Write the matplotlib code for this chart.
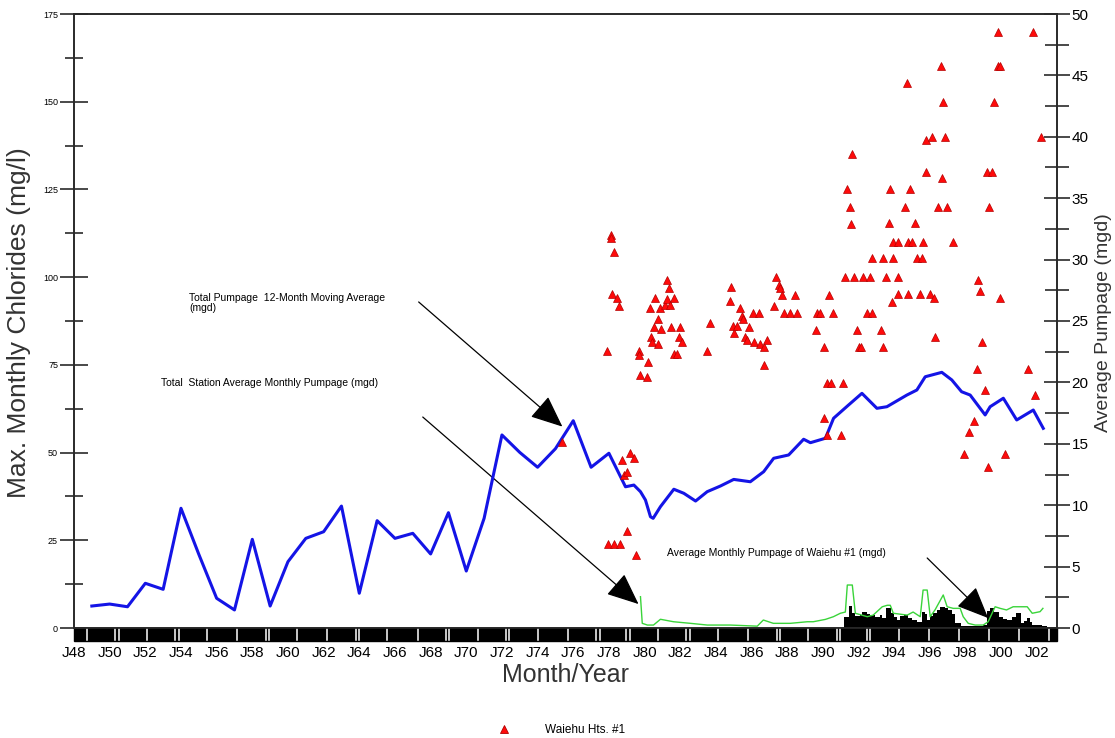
import matplotlib
matplotlib.use('Agg')
import matplotlib.pyplot as plt
import matplotlib.transforms as mtrans
from matplotlib.patches import Rectangle
from matplotlib.lines import Line2D
import numpy as np

plt.rcParams['font.family'] = ['Liberation Sans', 'DejaVu Sans']

# ---------------- data ----------------
# Total pumpage 12-month moving average (mgd, right axis)
avg_year = [1949, 1950, 1951, 1952, 1953, 1954, 1955, 1956, 1957, 1958, 1959, 1960,
            1961, 1962, 1963, 1964, 1965, 1966, 1967, 1968, 1969, 1970, 1971, 1972,
            1973, 1974, 1975, 1976, 1977, 1978,
            1978.93, 1979.40, 1979.77, 1980.05, 1980.33, 1980.48, 1980.89, 1981.64,
            1982.20, 1982.86, 1983.51, 1984.25, 1985.00, 1985.93, 1986.68, 1987.24,
            1988.08, 1988.92, 1989.30, 1990.14, 1990.60, 1991.44, 1992.19, 1993.03,
            1993.59, 1994.71, 1995.27, 1995.74, 1996.67, 1997.23, 1997.78, 1998.26,
            1999.10, 1999.38, 2000.12, 2000.87, 2001.80, 2002.36]
avg_mgd = [1.79, 1.95, 1.73, 3.64, 3.15, 9.75, 6.0, 2.42, 1.47, 7.22, 1.79, 5.4,
           7.3, 7.84, 9.93, 2.83, 8.74, 7.3, 7.71, 6.03, 9.39, 4.64, 8.93, 15.72,
           14.3, 13.09, 14.6, 16.88, 13.09, 14.23,
           11.5, 11.64, 11.1, 10.42, 9.06, 8.93, 9.88, 11.3,
           10.97, 10.34, 11.1, 11.56, 12.1, 11.91, 12.73, 13.82,
           14.09, 15.37, 15.09, 15.45, 17.08, 18.16, 19.11, 17.89,
           18.02, 18.97, 19.38, 20.46, 20.82, 20.2, 19.24, 18.97,
           17.35, 18.02, 18.71, 16.94, 17.75, 16.26]

# Total station average monthly pumpage (mgd, right axis)
stn_year = [1979.77, 1979.87, 1980.16, 1980.50, 1980.89, 1981.62, 1982.57, 1983.52,
            1984.81, 1986.32, 1986.66, 1987.22, 1988.17, 1989.13, 1989.46, 1990.14,
            1990.59, 1990.98, 1991.26, 1991.37, 1991.65, 1991.82, 1992.49, 1992.82,
            1993.33, 1993.61, 1993.78, 1993.95, 1994.73, 1995.06, 1995.46, 1995.62,
            1995.85, 1996.02, 1996.30, 1996.75, 1996.97, 1997.31, 1997.70, 1997.87,
            1998.15, 1998.54, 1998.99, 1999.27, 1999.66, 1999.94, 2000.30, 2000.67,
            2001.46, 2001.74, 2002.18, 2002.34]
stn_mgd = [2.55, 0.38, 0.24, 0.24, 0.71, 0.51, 0.38, 0.24,
           0.24, 0.15, 0.65, 0.38, 0.38, 0.51, 0.51, 0.70,
           0.92, 1.20, 1.30, 3.50, 3.50, 1.20, 0.92, 1.05,
           1.73, 1.85, 1.85, 1.20, 1.05, 1.30, 0.92, 3.09,
           3.09, 0.92, 1.50, 2.69, 1.73, 1.60, 1.60, 0.92,
           0.38, 0.24, 0.24, 0.51, 1.73, 1.60, 1.47, 1.73,
           1.73, 1.20, 1.33, 1.60]

# Average monthly pumpage of Waiehu #1 (mgd, right axis, monthly steps)
w1_year = [1991.20, 1991.44, 1991.63, 1991.80, 1992.09, 1992.19, 1992.45, 1992.66,
           1992.90, 1993.22, 1993.31, 1993.55, 1993.80, 1994.00, 1994.15, 1994.35,
           1994.55, 1994.80, 1995.00, 1995.30, 1995.55, 1995.70, 1995.85, 1996.00,
           1996.20, 1996.39, 1996.55, 1996.85, 1997.04, 1997.23, 1997.42, 1997.75,
           1999.00, 1999.20, 1999.35, 1999.60, 1999.90, 2000.10, 2000.35, 2000.60,
           2000.83, 2001.10, 2001.30, 2001.45, 2001.60, 2001.75, 2002.30, 2002.55]
w1_mgd = [0.90, 1.79, 1.19, 0.95, 1.06, 1.33, 1.15, 1.06,
          0.90, 1.06, 0.79, 1.60, 1.19, 0.90, 0.65, 0.95,
          1.06, 0.85, 0.65, 0.51, 1.33, 1.10, 0.65, 1.00,
          1.20, 1.47, 1.73, 1.60, 1.47, 1.10, 0.38, 0.16,
          0.24, 1.40, 1.60, 1.30, 0.92, 0.70, 0.65, 0.90,
          1.19, 0.38, 0.60, 0.79, 0.50, 0.24, 0.16, 0.00]

# Waiehu Hts. #1 max monthly chlorides (mg/l, left axis)
chl_year = [1975.38, 1977.90, 1977.94, 1978.09, 1978.13, 1978.19, 1978.27, 1978.31,
            1978.43, 1978.56, 1978.61, 1978.75, 1978.83, 1978.99, 1979.03, 1979.21,
            1979.40, 1979.51, 1979.68, 1979.70, 1979.77, 1980.11, 1980.18, 1980.29,
            1980.34, 1980.43, 1980.52, 1980.61, 1980.74, 1980.74, 1980.89, 1980.93,
            1981.12, 1981.23, 1981.23, 1981.36, 1981.45, 1981.49, 1981.64, 1981.64,
            1981.83, 1981.92, 1982.01, 1982.11, 1983.51, 1983.69, 1984.77, 1984.85,
            1984.96, 1985.00, 1985.19, 1985.37, 1985.47, 1985.52, 1985.65, 1985.75,
            1985.84, 1986.08, 1986.12, 1986.40, 1986.45, 1986.68, 1986.72, 1986.87,
            1987.28, 1987.39, 1987.52, 1987.57, 1987.71, 1987.84, 1988.17, 1988.45,
            1988.55, 1989.63, 1989.67, 1989.85, 1990.04, 1990.08, 1990.23, 1990.23,
            1990.35, 1990.45, 1990.57, 1991.03, 1991.13, 1991.25, 1991.35, 1991.54,
            1991.59, 1991.63, 1991.76, 1991.91, 1992.00, 1992.13, 1992.25, 1992.47,
            1992.66, 1992.75, 1992.75, 1993.25, 1993.37, 1993.37, 1993.55, 1993.68,
            1993.74, 1993.87, 1993.93, 1993.96, 1994.19, 1994.24, 1994.24, 1994.62,
            1994.71, 1994.75, 1994.80, 1994.90, 1994.99, 1995.18, 1995.27, 1995.42,
            1995.55, 1995.64, 1995.79, 1995.79, 1995.98, 1996.11, 1996.24, 1996.30,
            1996.43, 1996.63, 1996.67, 1996.73, 1996.85, 1996.95, 1997.32, 1997.92,
            1998.22, 1998.48, 1998.67, 1998.72, 1998.82, 1998.91, 1999.10, 1999.23,
            1999.25, 1999.34, 1999.47, 1999.62, 1999.84, 1999.84, 1999.94, 1999.94,
            2000.22, 2001.52, 2001.80, 2001.90, 2002.23]
chl_mgl = [53.1, 79.0, 23.9, 112.0, 111.1, 95.1, 23.9, 107.2,
           94.0, 91.8, 23.9, 47.9, 43.6, 44.5, 27.7, 49.8,
           48.4, 20.8, 79.0, 77.8, 72.1, 71.6, 75.7, 91.1,
           83.0, 81.6, 85.9, 94.0, 88.0, 80.9, 91.1, 85.1,
           92.1, 99.2, 93.7, 96.8, 92.1, 85.9, 94.0, 78.1,
           78.1, 83.0, 85.9, 81.6, 79.0, 87.0, 93.2, 97.1,
           86.1, 84.0, 86.1, 91.1, 88.9, 88.0, 83.0, 82.1,
           85.9, 89.9, 81.6, 89.9, 80.9, 80.2, 75.0, 82.1,
           91.8, 100.0, 97.8, 96.8, 94.9, 89.9, 89.9, 94.9,
           89.9, 84.9, 89.9, 89.9, 80.0, 59.8, 69.9, 55.0,
           95.0, 69.9, 89.9, 55.0, 69.9, 100.0, 125.1, 120.1,
           115.1, 135.1, 100.0, 84.9, 80.0, 80.0, 100.1, 89.9,
           100.1, 105.4, 89.9, 84.9, 105.4, 80.0, 100.1, 115.3,
           125.1, 93.0, 105.4, 110.1, 95.2, 110.1, 100.1, 120.1,
           155.2, 95.2, 110.1, 125.1, 110.1, 115.3, 105.4, 95.2,
           105.4, 110.1, 139.1, 130.1, 95.2, 140.0, 94.0, 83.0,
           120.1, 160.2, 128.2, 150.0, 140.0, 120.1, 110.1, 49.6,
           55.8, 59.0, 73.7, 99.2, 96.0, 81.6, 67.8, 130.1,
           45.8, 120.1, 130.1, 150.0, 170.0, 160.2, 160.2, 94.0,
           49.6, 73.7, 170.0, 66.4, 140.0]

year_ticks = list(range(1948, 2003, 2))
year_labels = ['J%02d' % (y % 100) for y in year_ticks]
chl_ticks = [0, 25, 50, 75, 100, 125, 150, 175]
mgd_ticks = [0, 5, 10, 15, 20, 25, 30, 35, 40, 45, 50]

# ---------------- figure ----------------
W, H = 1115, 738
fig = plt.figure(figsize=(W / 100, H / 100), dpi=100)
ax = fig.add_axes([74 / W, 1 - 628 / H, 983 / W, 614 / H])
ax2 = ax.twinx()

ax.set_xlim(1948.06, 2003.13)
ax.set_ylim(0, 175)
ax2.set_ylim(0, 50)

spine_col = '#2a2a2a'
for a in (ax, ax2):
    for s in a.spines.values():
        s.set_linewidth(1.2)
        s.set_color(spine_col)

# series on right axis
ax2.fill_between(w1_year, w1_mgd, step='post', color='black', lw=0, zorder=2)
ax2.plot(stn_year, stn_mgd, color='#3ad43a', lw=1.0, zorder=3)
ax2.plot(avg_year, avg_mgd, color='#1414e6', lw=2.2, zorder=4)

# chlorides on left axis, drawn on top
ax.set_zorder(ax2.get_zorder() + 1)
ax.patch.set_visible(False)
ax.plot(chl_year, chl_mgl, ls='none', marker='^', ms=6.2, mfc='#ff0a0a',
        mec='#b40000', mew=0.5, label='Waiehu Hts. #1', zorder=5)

# left axis ticks
ax.set_yticks(chl_ticks)
ax.set_yticklabels([str(t) for t in chl_ticks])
ax.set_yticks(np.arange(12.5, 175, 25), minor=True)
ax.tick_params(axis='y', which='major', direction='inout', length=20, width=1.2,
               color=spine_col, pad=1.5, labelsize=6.5)
ax.tick_params(axis='y', which='minor', direction='inout', length=13, width=1.2,
               color=spine_col)

# right axis ticks
ax2.set_yticks(mgd_ticks)
ax2.set_yticklabels([str(t) for t in mgd_ticks])
ax2.set_yticks(np.arange(2.5, 50, 5), minor=True)
ax2.tick_params(axis='y', which='major', direction='inout', length=19, width=1.2,
                color=spine_col, pad=1, labelsize=11)
ax2.tick_params(axis='y', which='minor', direction='inout', length=17, width=1.2,
                color=spine_col)

# x ticks
ax.set_xticks(year_ticks)
ax.set_xticklabels(year_labels)
ax.tick_params(axis='x', which='both', length=0, pad=13, labelsize=11)

# black date strip under the axis
strip_h = 13 / 614
ax.add_patch(Rectangle((0, -strip_h), 1, strip_h, transform=ax.transAxes,
                       color='black', clip_on=False, zorder=1))
blend = mtrans.blended_transform_factory(ax.transData, ax.transAxes)
tick_pos = 1948.72 + 1.686 * np.arange(0, 33)
doubles = {1, 3, 6, 9, 12, 14, 17, 18, 20, 23, 25, 26}
for i, xp in enumerate(tick_pos):
    xs = [xp] if i not in doubles else [xp - 0.09, xp + 0.09]
    for xx in xs:
        ax.add_line(Line2D([xx, xx], [-strip_h * 0.92, -0.001], transform=blend,
                           color='white', lw=1.1, clip_on=False, zorder=2))

# axis labels
fig.text(19 / W, 1 - 323 / H, 'Max. Monthly Chlorides (mg/l)', rotation=90,
         ha='center', va='center', fontsize=19, color='#333333')
fig.text(1104 / W, 1 - 323 / H, 'Average Pumpage (mgd)', rotation=90,
         ha='center', va='center', fontsize=14, color='#333333')
fig.text(565 / W, 1 - 675 / H, 'Month/Year', ha='center', va='center',
         fontsize=18, color='#333333')

# annotations (on right axis, mgd)
arrow = dict(arrowstyle='-|>,head_length=1.0,head_width=0.43', mutation_scale=20,
             color='black', lw=0.9, shrinkA=0, shrinkB=0)
ax2.text(1954.45, 27.3, 'Total Pumpage  12-Month Moving Average\n(mgd)',
         ha='left', va='top', fontsize=7.5, linespacing=1.05)
ax2.annotate('', xy=(1975.39, 16.4), xytext=(1967.33, 26.55), arrowprops=arrow)

ax2.text(1952.88, 19.95, 'Total  Station Average Monthly Pumpage (mgd)',
         ha='left', va='center', fontsize=7.5)
ax2.annotate('', xy=(1979.66, 1.95), xytext=(1967.56, 17.18), arrowprops=arrow)

ax2.text(1981.28, 6.1, 'Average Monthly Pumpage of Waiehu #1 (mgd)',
         ha='left', va='center', fontsize=7.5)
ax2.annotate('', xy=(1999.27, 0.81), xytext=(1995.85, 5.7), arrowprops=arrow)

# legend
fig.legend(handles=[Line2D([], [], ls='none', marker='^', ms=5.5, mfc='#ff0a0a',
                           mec='#b00000', mew=0.6)],
           labels=['Waiehu Hts. #1'], loc='center left',
           bbox_to_anchor=(492 / W, 1 - 730 / H), frameon=False, fontsize=8.5,
           handlelength=1.0, handletextpad=3.0, borderpad=0)

fig.savefig('out.png', dpi=100)
